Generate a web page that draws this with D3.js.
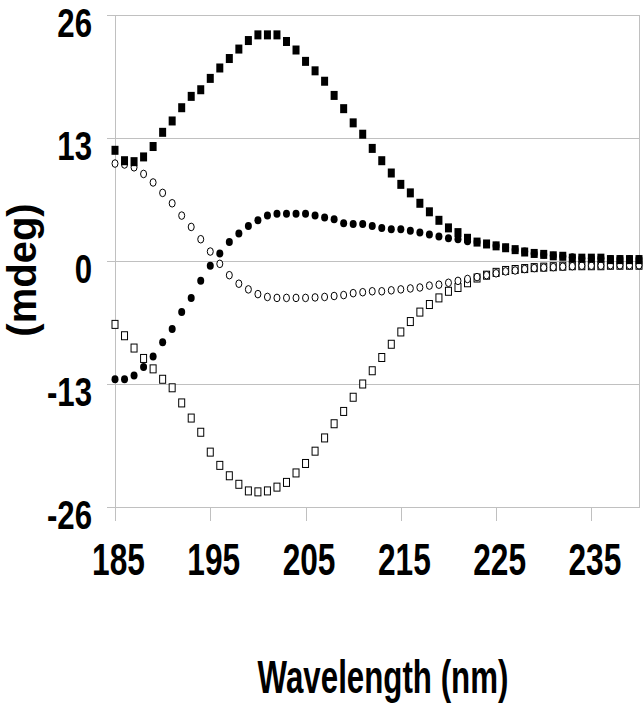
<!DOCTYPE html>
<html>
<head>
<meta charset="utf-8">
<script src="https://cdn.jsdelivr.net/npm/d3@7"></script>
<style>
  body { margin: 0; background: #fff; }
  svg { display: block; }
  .grid line { stroke: #c0c0c0; shape-rendering: crispEdges; }
  .grid path { display: none; }
  .axis path, .axis line { stroke: #c0c0c0; shape-rendering: crispEdges; }
  .axis text { font-family: "Liberation Sans", Arial, sans-serif; font-weight: bold; fill: #000; }
  .axis.y text { font-size: 40px; }
  .axis.x text { font-size: 44px; }
  .label { font-family: "Liberation Sans", Arial, sans-serif; font-weight: bold; fill: #000; }
</style>
</head>
<body>
<div id="chart"></div>
<script>
// Wavelength categories (nm), one reading per nm.
var wavelength = [185, 186, 187, 188, 189, 190, 191, 192, 193, 194, 195, 196, 197, 198,
  199, 200, 201, 202, 203, 204, 205, 206, 207, 208, 209, 210, 211, 212, 213, 214, 215,
  216, 217, 218, 219, 220, 221, 222, 223, 224, 225, 226, 227, 228, 229, 230, 231, 232,
  233, 234, 235, 236, 237, 238, 239, 240];

// CD signal (mdeg).
var filledSquares = [11.7, 10.6, 10.5, 11.0, 12.1, 13.6, 14.8, 16.2, 17.4, 18.1, 19.3, 20.4,
  21.4, 22.4, 23.3, 23.9, 23.9, 23.9, 23.2, 22.3, 21.1, 20.1, 19.0, 17.5, 16.1, 14.6, 13.4,
  11.9, 10.6, 9.3, 8.1, 7.2, 6.1, 5.2, 4.3, 3.5, 3.0, 2.4, 2.0, 1.8, 1.6, 1.4, 1.2, 0.95,
  0.8, 0.7, 0.55, 0.5, 0.3, 0.3, 0.3, 0.3, 0.15, 0.15, 0.15, 0.15];

var openCircles = [10.3, 10.2, 9.9, 9.2, 8.3, 7.2, 6.1, 4.8, 3.6, 2.3, 1.0, -0.3, -1.5, -2.4,
  -3.0, -3.5, -3.8, -3.9, -3.9, -3.9, -3.9, -3.85, -3.8, -3.7, -3.6, -3.4, -3.3, -3.2, -3.2,
  -3.1, -3.0, -2.9, -2.8, -2.6, -2.5, -2.3, -2.1, -1.9, -1.7, -1.5, -1.3, -1.1, -1.0, -0.85,
  -0.75, -0.7, -0.65, -0.6, -0.55, -0.5, -0.5, -0.5, -0.45, -0.45, -0.45, -0.45];

var filledCircles = [-12.5, -12.5, -12.1, -11.2, -10.1, -8.6, -7.2, -5.4, -3.9, -2.1, -0.5,
  0.8, 2.0, 2.9, 3.7, 4.3, 4.8, 5.0, 5.0, 5.0, 5.0, 4.8, 4.6, 4.4, 4.0, 3.9, 3.9, 3.7, 3.5,
  3.35, 3.35, 3.2, 3.0, 2.8, 2.6, 2.4, 2.3, 2.1, 2.0, 1.8, 1.6, 1.4, 1.2, 1.0, 0.8, 0.7,
  0.55, 0.5, 0.4, 0.3, 0.3, 0.3, 0.2, 0.2, 0.2, 0.2];

var openSquares = [-6.7, -7.9, -9.2, -10.3, -11.4, -12.5, -13.4, -15.0, -16.6, -18.1, -20.2,
  -21.6, -22.7, -23.6, -24.3, -24.4, -24.3, -23.9, -23.4, -22.4, -21.4, -20.1, -18.7, -17.2,
  -15.9, -14.4, -13.0, -11.6, -10.2, -8.8, -7.5, -6.4, -5.4, -4.6, -3.9, -3.2, -2.8, -2.3,
  -1.8, -1.5, -1.2, -1.0, -0.9, -0.8, -0.7, -0.65, -0.6, -0.55, -0.5, -0.5, -0.5, -0.5,
  -0.45, -0.45, -0.45, -0.45];

// Tick labels.
var xTicks = [185, 195, 205, 215, 225, 235];
var yTicks = [-26, -13, 0, 13, 26];

var W = 643, H = 710;
var plot = {left: 115, right: 639, top: 15, bottom: 507};

var xScale = d3.scaleLinear().domain([185, 240]).range([plot.left, plot.right]);
var yScale = d3.scaleLinear().domain([-26, 26]).range([plot.bottom, plot.top]);

var svg = d3.select("#chart").append("svg")
    .attr("width", W)
    .attr("height", H);

// Horizontal gridlines.
svg.append("g")
    .attr("class", "grid")
    .attr("transform", "translate(" + plot.left + ",0)")
    .call(d3.axisLeft(yScale).tickValues(yTicks).tickSize(-(plot.right - plot.left)).tickFormat(""));

// Plot frame (right edge).
svg.append("line")
    .attr("x1", plot.right + 0.5).attr("x2", plot.right + 0.5)
    .attr("y1", plot.top).attr("y2", plot.bottom)
    .attr("stroke", "#c0c0c0");

// y axis (plain hyphen for negatives, condensed bold digits)
var yCondense = 0.78;
svg.append("g")
    .attr("class", "axis y")
    .attr("transform", "translate(" + plot.left + ",0)")
    .call(d3.axisLeft(yScale).tickValues(yTicks).tickSize(8).tickSizeOuter(0)
      .tickFormat(function(d) { return String(d); }))
  .selectAll("text")
    .attr("x", -23 / yCondense)
    .attr("y", 7)
    .attr("dy", "0.36em")
    .attr("transform", "scale(" + yCondense + ",1)");

// x axis
var xCondense = 0.72;
svg.append("g")
    .attr("class", "axis x")
    .attr("transform", "translate(0," + plot.bottom + ")")
    .call(d3.axisBottom(xScale).tickValues(xTicks).tickSize(14).tickSizeOuter(0))
  .selectAll("text")
    .attr("y", null)
    .attr("dy", null)
    .attr("transform", "translate(3,68) scale(" + xCondense + ",1)");

// Axis titles.
svg.append("text")
    .attr("class", "label")
    .attr("text-anchor", "middle")
    .attr("font-size", 46)
    .attr("transform", "translate(383,693) scale(0.68,1)")
    .text("Wavelength (nm)");

svg.append("text")
    .attr("class", "label")
    .attr("text-anchor", "middle")
    .attr("font-size", 40)
    .attr("transform", "translate(36,270) rotate(-90)")
    .text("(mdeg)");

function points(values) {
  return wavelength.map(function(w, i) { return {w: w, v: values[i]}; });
}

var marks = svg.append("g").attr("class", "marks");

// Open squares.
marks.append("g").selectAll("rect")
    .data(points(openSquares))
    .enter().append("rect")
    .attr("x", function(d) { return xScale(d.w) - 3; })
    .attr("y", function(d) { return yScale(d.v) - 4; })
    .attr("width", 6)
    .attr("height", 8)
    .attr("fill", "#fff")
    .attr("stroke", "#000")
    .attr("stroke-width", 1);

// Open circles.
marks.append("g").selectAll("ellipse")
    .data(points(openCircles))
    .enter().append("ellipse")
    .attr("cx", function(d) { return xScale(d.w); })
    .attr("cy", function(d) { return yScale(d.v); })
    .attr("rx", 3)
    .attr("ry", 3.8)
    .attr("fill", "#fff")
    .attr("stroke", "#000")
    .attr("stroke-width", 1);

// Filled circles.
marks.append("g").selectAll("ellipse")
    .data(points(filledCircles))
    .enter().append("ellipse")
    .attr("cx", function(d) { return xScale(d.w); })
    .attr("cy", function(d) { return yScale(d.v); })
    .attr("rx", 3.5)
    .attr("ry", 4)
    .attr("fill", "#000");

// Filled squares.
marks.append("g").selectAll("rect")
    .data(points(filledSquares))
    .enter().append("rect")
    .attr("x", function(d) { return xScale(d.w) - 3.5; })
    .attr("y", function(d) { return yScale(d.v) - 4.5; })
    .attr("width", 7)
    .attr("height", 9)
    .attr("fill", "#000");
</script>
</body>
</html>
